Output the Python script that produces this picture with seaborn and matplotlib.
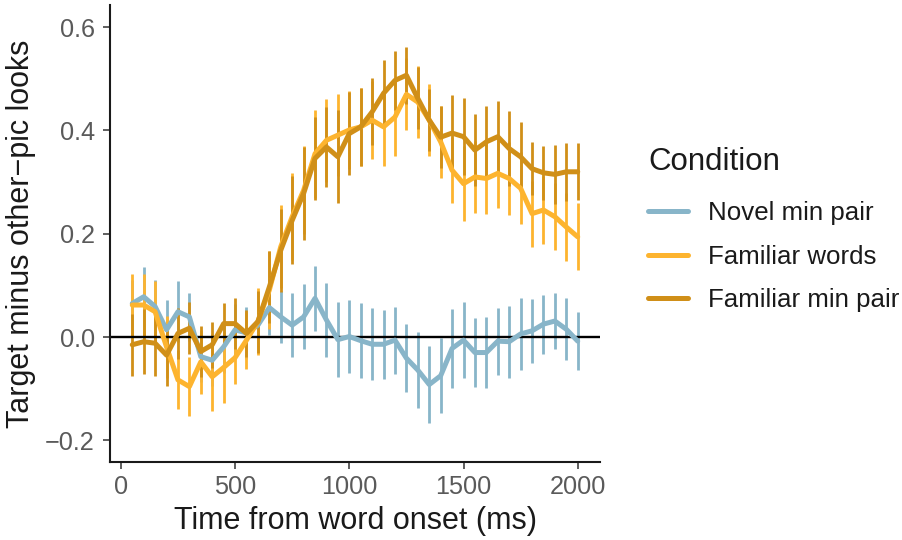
import numpy as np
import pandas as pd
import matplotlib
matplotlib.use("Agg")
import matplotlib.pyplot as plt
import seaborn as sns
from matplotlib.lines import Line2D

# ---- data ----
time_ms = list(range(50, 2001, 50))

novel_mean = [0.065, 0.078, 0.059, 0.014, 0.049, 0.039, -0.038, -0.045, -0.019, 0.014,
              0.008, 0.023, 0.057, 0.039, 0.023, 0.039, 0.075, 0.033, -0.005, 0.001,
              -0.007, -0.014, -0.014, -0.006, -0.041, -0.064, -0.092, -0.075, -0.022, -0.006,
              -0.030, -0.030, -0.008, -0.009, 0.006, 0.012, 0.025, 0.031, 0.015, -0.008]
novel_err = [0.045, 0.058, 0.051, 0.058, 0.059, 0.047, 0.050, 0.050, 0.050, 0.050,
             0.050, 0.050, 0.053, 0.050, 0.062, 0.063, 0.063, 0.071, 0.072, 0.071,
             0.072, 0.070, 0.067, 0.065, 0.066, 0.074, 0.074, 0.073, 0.076, 0.073,
             0.067, 0.068, 0.065, 0.070, 0.070, 0.062, 0.057, 0.055, 0.060, 0.056]

famwords_mean = [0.062, 0.062, 0.049, -0.019, -0.083, -0.096, -0.048, -0.077, -0.059, -0.040,
                 -0.006, 0.030, 0.091, 0.175, 0.233, 0.284, 0.355, 0.381, 0.391, 0.401,
                 0.407, 0.420, 0.407, 0.426, 0.470, 0.455, 0.420, 0.378, 0.323, 0.297,
                 0.310, 0.307, 0.317, 0.307, 0.288, 0.239, 0.246, 0.233, 0.213, 0.194]
famwords_err = [0.060, 0.060, 0.060, 0.060, 0.057, 0.057, 0.062, 0.067, 0.068, 0.050,
                0.055, 0.065, 0.075, 0.080, 0.084, 0.085, 0.085, 0.080, 0.080, 0.075,
                0.075, 0.075, 0.075, 0.075, 0.070, 0.070, 0.070, 0.070, 0.064, 0.072,
                0.070, 0.068, 0.068, 0.070, 0.070, 0.064, 0.065, 0.065, 0.066, 0.065]

fammin_mean = [-0.015, -0.009, -0.012, -0.035, 0.007, 0.017, -0.028, -0.015, 0.026, 0.026,
               0.007, 0.030, 0.097, 0.168, 0.226, 0.278, 0.346, 0.368, 0.349, 0.394,
               0.407, 0.436, 0.472, 0.497, 0.507, 0.462, 0.420, 0.387, 0.395, 0.388,
               0.362, 0.378, 0.388, 0.365, 0.349, 0.326, 0.318, 0.315, 0.320, 0.320]
fammin_err = [0.060, 0.063, 0.063, 0.060, 0.050, 0.050, 0.050, 0.045, 0.040, 0.050,
              0.045, 0.060, 0.070, 0.080, 0.085, 0.090, 0.080, 0.077, 0.090, 0.080,
              0.075, 0.065, 0.065, 0.057, 0.055, 0.060, 0.060, 0.060, 0.073, 0.074,
              0.070, 0.069, 0.070, 0.072, 0.068, 0.051, 0.052, 0.057, 0.056, 0.055]

conditions = ["Novel min pair", "Familiar words", "Familiar min pair"]
colors = ["#88b5c9", "#fdb42f", "#d08f18"]

x_ticks = [0, 500, 1000, 1500, 2000]
y_ticks = [-0.2, 0.0, 0.2, 0.4, 0.6]
y_tick_labels = ["\u22120.2", "0.0", "0.2", "0.4", "0.6"]

frames = []
for name, m, e in [(conditions[0], novel_mean, novel_err),
                   (conditions[1], famwords_mean, famwords_err),
                   (conditions[2], fammin_mean, fammin_err)]:
    frames.append(pd.DataFrame({"time": time_ms, "mean": m, "err": e, "Condition": name}))
df = pd.concat(frames, ignore_index=True)
palette = dict(zip(conditions, colors))

# ---- figure ----
sns.set_theme(style="white")
plt.rcParams["font.family"] = ["Liberation Sans", "DejaVu Sans"]

fig = plt.figure(figsize=(9.02, 5.40), dpi=100)
ax = fig.add_axes([110 / 902, 1 - 462 / 540, 490 / 902, 457 / 540])

# error bars
for cond in conditions:
    sub = df[df["Condition"] == cond]
    ax.vlines(sub["time"], sub["mean"] - sub["err"], sub["mean"] + sub["err"],
              color=palette[cond], linewidth=2.0, zorder=2)

ax.axhline(0, color="black", linewidth=1.7, zorder=2.5)

sns.lineplot(data=df, x="time", y="mean", hue="Condition", hue_order=conditions,
             palette=palette, linewidth=3.6, legend=False, ax=ax, zorder=3,
             estimator=None, sort=True)

ax.set_xlim(-47.5, 2097.5)
ax.set_ylim(-0.242, 0.643)
ax.set_xticks(x_ticks)
ax.set_xticklabels([str(t) for t in x_ticks])
ax.set_yticks(y_ticks)
ax.set_yticklabels(y_tick_labels)

for s in ["top", "right"]:
    ax.spines[s].set_visible(False)
for s in ["left", "bottom"]:
    ax.spines[s].set_visible(True)
    ax.spines[s].set_linewidth(1.5)
    ax.spines[s].set_color("#1a1a1a")

ax.tick_params(axis="both", which="major", direction="out", length=5, width=1.1,
               color="#333333", labelsize=18.2, labelcolor="#5a5a5a",
               bottom=True, left=True, top=False, right=False)
ax.tick_params(axis="x", pad=4.5)
ax.tick_params(axis="y", pad=6)
ax.grid(False)

ax.set_xlabel("Time from word onset (ms)", fontsize=22, color="#1a1a1a", labelpad=5)
ax.set_ylabel("Target minus other\u2212pic looks", fontsize=22, color="#1a1a1a", labelpad=6.5)

handles = [Line2D([0], [0], color=c, linewidth=3.6) for c in colors]
leg = fig.legend(handles, conditions, title="Condition", loc="upper left",
                 bbox_to_anchor=(648 / 902, 1 - 147 / 540), frameon=False,
                 fontsize=18.6, title_fontsize=22.5, handlelength=1.55,
                 handletextpad=0.78, labelspacing=0.76, borderpad=0,
                 borderaxespad=0, alignment="left")
try:
    leg._legend_box.sep = 0.76 * 18.6 + 3.3
except Exception:
    pass
for t in leg.get_texts():
    t.set_color("#1a1a1a")
leg.get_title().set_color("#1a1a1a")

fig.savefig("out.png", dpi=100)
